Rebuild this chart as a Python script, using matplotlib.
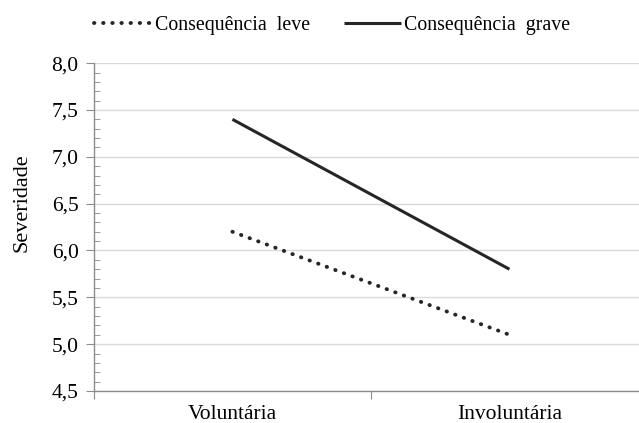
import matplotlib
matplotlib.use("Agg")
import matplotlib.pyplot as plt
from matplotlib.ticker import FuncFormatter, MultipleLocator

categories = ["Voluntária", "Involuntária"]
leve = [6.2, 5.1]
grave = [7.4, 5.8]

plt.rcParams.update({
    "font.family": ["Liberation Serif", "DejaVu Serif"],
    "font.size": 14,
})

AXIS_GREY = "#8c8c8c"
GRID_GREY = "#d9d9d9"
LINE_COL = "#262626"

fig = plt.figure(figsize=(6.39, 4.23), dpi=100)
ax = fig.add_axes([0.147, 0.0757, 0.867, 0.775])

x = list(range(len(categories)))
ax.plot(x, leve, color=LINE_COL, lw=2.8, linestyle=(0, (0.1, 2.25)),
        dash_capstyle="round", label="Consequência  leve")
ax.plot(x, grave, color=LINE_COL, lw=2.2, solid_capstyle="butt",
        label="Consequência  grave")

ax.set_xlim(-0.5, 1.5)
ax.set_ylim(4.5, 8.0)

# y axis: major every 0.5 (outward), minor every 0.1 (inward)
ax.yaxis.set_major_locator(MultipleLocator(0.5))
ax.yaxis.set_minor_locator(MultipleLocator(0.1))
ax.yaxis.set_major_formatter(FuncFormatter(lambda v, _: f"{v:.1f}".replace(".", ",")))
ax.tick_params(axis="y", which="major", direction="out", length=6,
               color=AXIS_GREY, labelsize=15.5, pad=5)
ax.tick_params(axis="y", which="minor", direction="in", length=4,
               color=AXIS_GREY)

# x axis: category boundary ticks, labels centred in each bin
ax.set_xticks([-0.5, 0.5, 1.5])
ax.set_xticklabels([])
ax.set_xticks(x, minor=True)
ax.set_xticklabels(categories, minor=True)
ax.tick_params(axis="x", which="major", direction="out", length=6,
               color=AXIS_GREY)
ax.tick_params(axis="x", which="minor", length=0, labelsize=15.5, pad=10)

ax.grid(axis="y", which="major", color=GRID_GREY, lw=1.0)
ax.set_axisbelow(True)

for side in ["top", "right"]:
    ax.spines[side].set_visible(False)
for side in ["left", "bottom"]:
    ax.spines[side].set_color(AXIS_GREY)
    ax.spines[side].set_linewidth(1.0)

ax.set_ylabel("Severidade", fontsize=16)
ax.yaxis.set_label_coords(-0.113, 0.573)

fig.legend(loc="upper center", bbox_to_anchor=(0.52, 1.005), ncol=2,
           frameon=False, handlelength=2.9, handletextpad=0.15,
           columnspacing=1.7, fontsize=14.3)

fig.savefig("out.png", dpi=100)
